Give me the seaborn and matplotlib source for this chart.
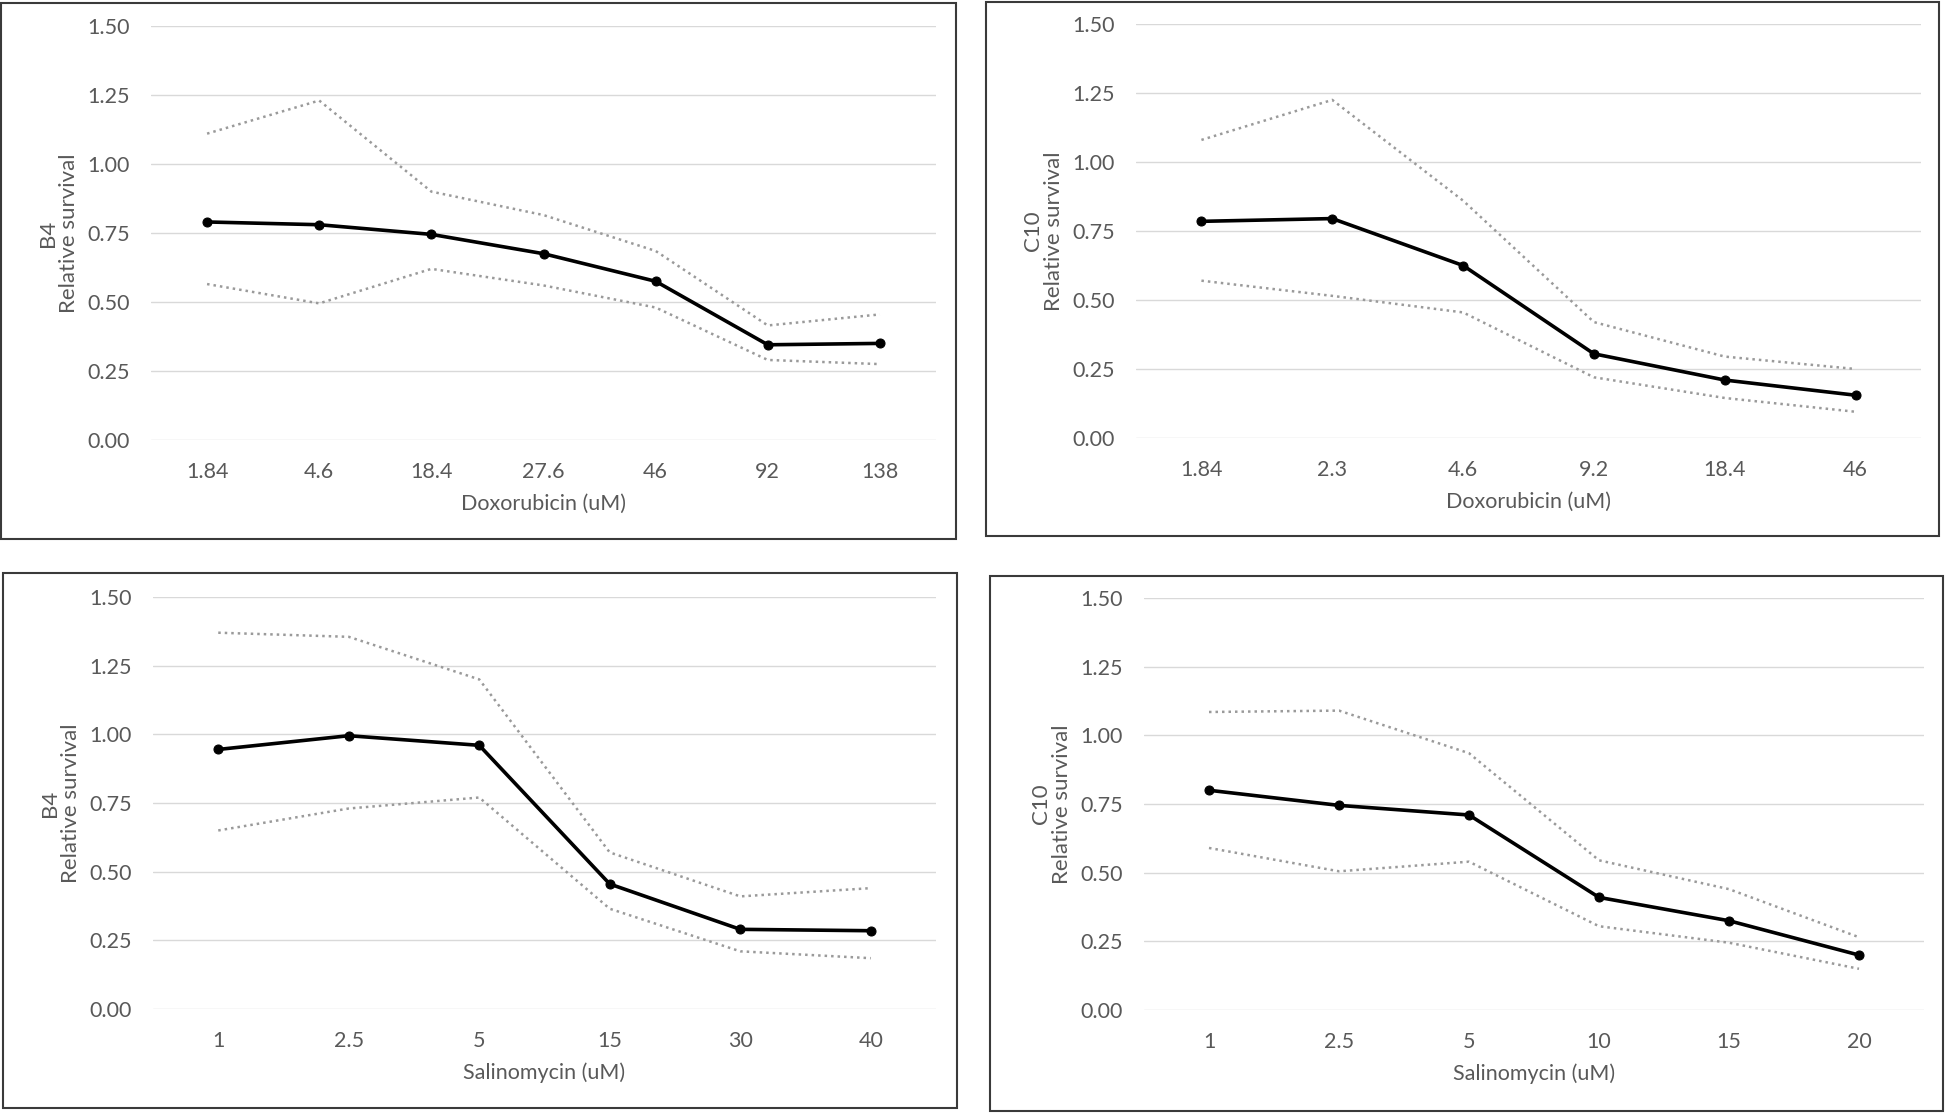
import numpy as np
import pandas as pd
import matplotlib
matplotlib.use('Agg')
import matplotlib.pyplot as plt
import seaborn as sns
from matplotlib.patches import Rectangle

# values
dox_b4_doses = ['1.84', '4.6', '18.4', '27.6', '46', '92', '138']
dox_b4_mean = [0.79, 0.78, 0.745, 0.675, 0.575, 0.345, 0.35]
dox_b4_upper = [1.11, 1.23, 0.90, 0.815, 0.685, 0.415, 0.455]
dox_b4_lower = [0.565, 0.495, 0.62, 0.56, 0.48, 0.29, 0.275]

dox_c10_doses = ['1.84', '2.3', '4.6', '9.2', '18.4', '46']
dox_c10_mean = [0.785, 0.795, 0.625, 0.305, 0.21, 0.155]
dox_c10_upper = [1.08, 1.225, 0.86, 0.42, 0.295, 0.25]
dox_c10_lower = [0.57, 0.515, 0.455, 0.22, 0.145, 0.095]

sal_b4_doses = ['1', '2.5', '5', '15', '30', '40']
sal_b4_mean = [0.945, 0.995, 0.96, 0.455, 0.29, 0.285]
sal_b4_upper = [1.37, 1.355, 1.20, 0.57, 0.41, 0.44]
sal_b4_lower = [0.65, 0.73, 0.77, 0.365, 0.21, 0.185]

sal_c10_doses = ['1', '2.5', '5', '10', '15', '20']
sal_c10_mean = [0.80, 0.745, 0.71, 0.41, 0.325, 0.20]
sal_c10_upper = [1.085, 1.09, 0.935, 0.545, 0.44, 0.265]
sal_c10_lower = [0.59, 0.505, 0.54, 0.305, 0.245, 0.15]

sns.set_theme(style='white')
plt.rcParams['font.family'] = ['Lato', 'DejaVu Sans']

W, H = 1946, 1113
fig = plt.figure(figsize=(W / 100, H / 100), dpi=100)

def px_axes(l, r, t, b):
    return fig.add_axes([l / W, 1 - b / H, (r - l) / W, (b - t) / H])

def px_box(l, r, t, b):
    fig.patches.append(Rectangle((l / W, 1 - b / H), (r - l) / W, (b - t) / H,
                                 transform=fig.transFigure, fill=False,
                                 edgecolor='#3a3a3a', linewidth=1.5))

panels = [
    (dox_b4_doses, dox_b4_mean, dox_b4_upper, dox_b4_lower, 'B4', 'Doxorubicin (uM)',
     (151, 936, 26, 440), (1, 956, 3, 539)),
    (dox_c10_doses, dox_c10_mean, dox_c10_upper, dox_c10_lower, 'C10', 'Doxorubicin (uM)',
     (1136, 1921, 24, 438), (986, 1939, 2, 536)),
    (sal_b4_doses, sal_b4_mean, sal_b4_upper, sal_b4_lower, 'B4', 'Salinomycin (uM)',
     (153, 936, 597, 1009), (3, 957, 573, 1108)),
    (sal_c10_doses, sal_c10_mean, sal_c10_upper, sal_c10_lower, 'C10', 'Salinomycin (uM)',
     (1144, 1924, 598, 1010), (990, 1943, 576, 1111)),
]

grey_txt = '#595959'
for doses, mean, upper, lower, cell, drug, apos, bpos in panels:
    ax = px_axes(*apos)
    px_box(*bpos)
    df = pd.DataFrame({'dose': doses, 'mean': mean, 'upper': upper, 'lower': lower})
    sns.lineplot(data=df, x='dose', y='upper', ax=ax, color='#9a9a9a', lw=1.8,
                 linestyle=(0, (1, 1.6)), sort=False)
    sns.lineplot(data=df, x='dose', y='lower', ax=ax, color='#9a9a9a', lw=1.8,
                 linestyle=(0, (1, 1.6)), sort=False)
    sns.lineplot(data=df, x='dose', y='mean', ax=ax, color='black', lw=2.6,
                 marker='o', markersize=6.5, markeredgecolor='black', sort=False)
    n = len(doses)
    ax.set_xlim(-0.5, n - 0.5)
    ax.set_ylim(0, 1.5)
    ax.set_yticks(np.arange(0, 1.51, 0.25))
    ax.set_yticklabels(['%.2f' % v for v in np.arange(0, 1.51, 0.25)])
    ax.yaxis.grid(True, color='#d9d9d9', lw=1.0)
    ax.xaxis.grid(False)
    for s in ax.spines.values():
        s.set_visible(False)
    ax.tick_params(axis='both', length=0, labelsize=15.5, labelcolor=grey_txt)
    ax.tick_params(axis='y', pad=15)
    ax.tick_params(axis='x', pad=16)
    ax.set_xlabel(drug, fontsize=15.5, color=grey_txt)
    ax.xaxis.set_label_coords(0.5, -0.13)
    ax.set_ylabel(cell + '\nRelative survival', fontsize=16, color=grey_txt,
                  multialignment='center', linespacing=1.05)
    ax.yaxis.set_label_coords(-0.092, 0.5)
    ax.set_facecolor('none')

fig.savefig('out.png', dpi=100, facecolor='white')
